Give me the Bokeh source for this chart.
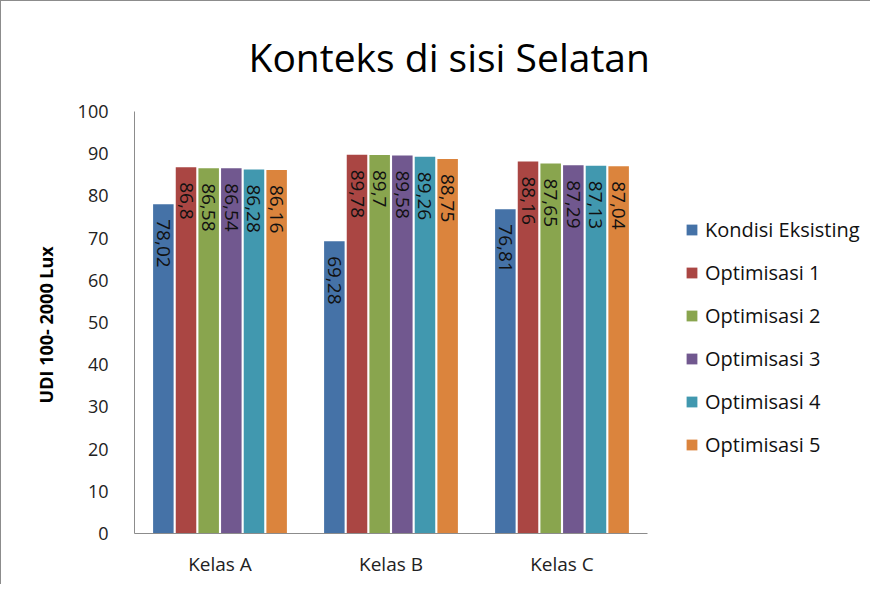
import math
from bokeh.plotting import figure
from bokeh.layouts import row
from bokeh.models import ColumnDataSource, FactorRange, Range1d, Legend, LegendItem
from bokeh.transform import dodge
from bokeh.core.properties import value
from bokeh.embed import file_html
from bokeh.resources import INLINE

categories = ["Kelas A", "Kelas B", "Kelas C"]
series = ["Kondisi Eksisting", "Optimisasi 1", "Optimisasi 2", "Optimisasi 3", "Optimisasi 4", "Optimisasi 5"]
kondisi = [78.02, 69.28, 76.81]
opt1 = [86.8, 89.78, 88.16]
opt2 = [86.58, 89.7, 87.65]
opt3 = [86.54, 89.58, 87.29]
opt4 = [86.28, 89.26, 87.13]
opt5 = [86.16, 88.75, 87.04]
colors = ["#4572A7", "#AA4643", "#89A54E", "#71588F", "#4198AF", "#DB843D"]
y_ticks = [0, 10, 20, 30, 40, 50, 60, 70, 80, 90, 100]

values = [kondisi, opt1, opt2, opt3, opt4, opt5]
FONT = "Open Sans"

p = figure(x_range=FactorRange(*categories), y_range=Range1d(0, 100),
           width=647, height=583, output_backend="svg", toolbar_location=None,
           min_border_left=133, min_border_top=108, min_border_bottom=51, min_border_right=1,
           title="Konteks di sisi Selatan")

p.title.text_font = FONT
p.title.text_font_size = "39px"
p.title.text_font_style = "normal"
p.title.align = "left"
p.title.vertical_align = "middle"
p.title.offset = 114
p.title.text_color = "#000000"
p.title.standoff = 55

# legend panel (separate figure; zero-size markers, only the legend swatches show)
lp = figure(width=222, height=583, x_range=FactorRange(*categories), y_range=Range1d(0, 100),
            output_backend="svg", toolbar_location=None, min_border=0)
lp.axis.visible = False
lp.grid.visible = False
lp.outline_line_color = None

pitch = 0.1325
bw = 0.12
items = []
for i, (name, vals, col) in enumerate(zip(series, values, colors)):
    src = ColumnDataSource(dict(cat=categories, val=vals,
                                lbl=[str(v).replace(".", ",") for v in vals]))
    off = (i - 2.5) * pitch
    p.vbar(x=dodge("cat", off, range=p.x_range), top="val", width=bw, source=src,
           fill_color=col, line_color=None)
    p.text(x=dodge("cat", off, range=p.x_range), y="val", text="lbl", source=src,
           angle=-math.pi / 2, text_align="left", text_baseline="middle",
           y_offset=15, text_font=value(FONT), text_font_size="19px", text_color="#111111")
    r = lp.scatter(x="cat", y="val", size=0, marker="square", source=src,
                   fill_color=col, line_color=None)
    items.append(LegendItem(label=name, renderers=[r]))

legend = Legend(items=items, location=(30, 75), margin=0, padding=10,
                glyph_width=27, glyph_height=27, label_height=27, spacing=16,
                label_standoff=0, label_text_font=FONT, label_text_font_size="20px",
                label_text_color="#111111", border_line_color=None, background_fill_alpha=0)
lp.add_layout(legend)

p.xgrid.visible = False
p.ygrid.visible = False
p.outline_line_color = None

p.yaxis.ticker = y_ticks
p.yaxis.axis_label = "UDI 100- 2000  Lux"
p.yaxis.axis_label_text_font = FONT
p.yaxis.axis_label_text_font_style = "bold"
p.yaxis.axis_label_text_font_size = "18px"
p.yaxis.axis_label_text_color = "#000000"
p.yaxis.axis_label_standoff = 17
p.yaxis.major_label_text_font = FONT
p.yaxis.major_label_text_font_size = "18px"
p.yaxis.major_label_text_color = "#222222"
p.yaxis.major_label_standoff = 20
p.yaxis.major_tick_line_color = None
p.yaxis.minor_tick_line_color = None
p.yaxis.axis_line_color = "#8c8c8c"

p.xaxis.major_label_text_font = FONT
p.xaxis.major_label_text_font_size = "19px"
p.xaxis.major_label_text_color = "#222222"
p.xaxis.major_label_standoff = 11
p.xaxis.major_tick_line_color = None
p.xaxis.axis_line_color = "#8c8c8c"

layout = row(p, lp)
layout.styles = {"border-left": "1px solid #8c8c8c", "border-top": "1px solid #8c8c8c"}

open("out.html", "w").write(file_html(layout, INLINE))
